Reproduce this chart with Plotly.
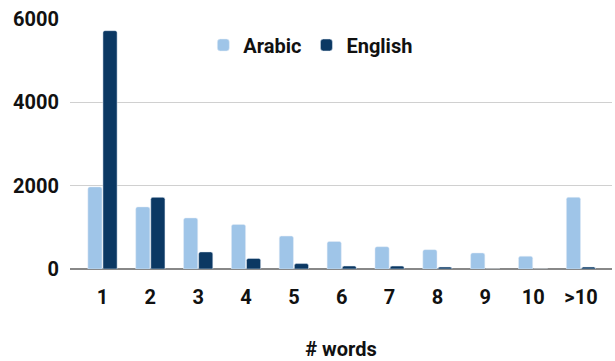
import plotly.graph_objects as go

categories = ["1", "2", "3", "4", "5", "6", "7", "8", "9", "10", ">10"]
arabic = [1970, 1490, 1225, 1070, 790, 660, 535, 465, 385, 305, 1720]
english = [5720, 1720, 410, 255, 130, 72, 70, 48, 0, 0, 48]
y_ticks = [0, 2000, 4000, 6000]

fig = go.Figure()
fig.add_trace(go.Bar(x=categories, y=arabic, name="Arabic", marker_color="#9fc5e8"))
fig.add_trace(go.Bar(x=categories, y=english, name="English", marker_color="#0b3863"))

font_family = "Roboto"
fs = 20
fig.update_layout(
    width=615, height=361,
    margin=dict(l=70, r=3, t=19, b=92, autoexpand=False),
    paper_bgcolor="white", plot_bgcolor="white",
    barmode="group", bargap=0.37, bargroupgap=0.06,
    barcornerradius=2,
    font=dict(family=font_family, size=fs, color="#111111"),
    showlegend=True,
    legend=dict(orientation="h", x=0.246, xanchor="left", y=1 - 45 / 361, yref="container",
                yanchor="middle", font=dict(size=fs, family=font_family, weight="bold"),
                bgcolor="rgba(0,0,0,0)"),
)
fig.update_xaxes(
    type="category", range=[-0.679, 10.648],
    showgrid=False, showline=False, ticks="",
    tickfont=dict(size=fs, family=font_family, weight="bold"),
    ticklabelstandoff=14,
    title=dict(text="# words", font=dict(size=fs, family=font_family, weight="bold"), standoff=36),
)
fig.update_yaxes(
    range=[0, 6000], tickvals=y_ticks,
    showgrid=True, gridcolor="#d0d0d0", gridwidth=1,
    zeroline=True, zerolinecolor="#888888", zerolinewidth=2,
    showline=False, ticks="",
    tickfont=dict(size=fs, family=font_family, weight="bold"),
    ticklabelstandoff=10,
)
fig.write_html("out.html")
